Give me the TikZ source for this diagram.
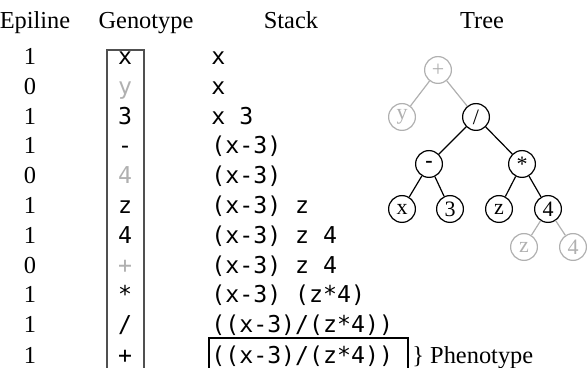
\documentclass[tikz,border=0pt]{standalone}
\usepackage{fontspec}
\setmainfont{Liberation Serif}
\setmonofont{DejaVu Sans Mono}
\usepackage{xcolor}
\definecolor{epink}{HTML}{000000}
\definecolor{epoff}{HTML}{B0B0B0}
\definecolor{epframe}{HTML}{505050}
\usepackage{tikz}
\tikzset{
  ephead/.style ={font=\fontsize{12.2}{14}\selectfont, inner sep=0pt, anchor=base, text=epink},
  epbit/.style  ={ephead},
  epgene/.style ={font=\ttfamily\fontsize{11.6}{14}\selectfont, inner sep=0pt, anchor=base, text=epink},
  epsilent/.style={epgene, text=epoff},
  epstack/.style={epgene, anchor=base west},
  epleaf/.style ={circle, draw=epink, line width=0.6pt, minimum size=13.4pt, inner sep=0pt,
                  font=\fontsize{11}{12}\selectfont, text=epink},
  epghost/.style={epleaf, draw=epoff, text=epoff},
  epedge/.style ={line width=0.6pt, draw=epink},
  epedgeoff/.style={line width=0.6pt, draw=epoff},
}

\begin{document}
\begin{tikzpicture}[x=0.5pt, y=-0.5pt]
  \useasboundingbox (0,0) rectangle (588,368);
  % column headings
  \node[ephead] (hepi)   at (35,28.5)  {Epiline};
  \node[ephead] (hgeno)  at (146,28.5) {Genotype};
  \node[ephead] (hstack) at (291,28.5) {Stack};
  \node[ephead] (htree)  at (482,28.5) {Tree};

  % epiline bits
  \node[epbit] (b1)  at (30,65)  {1};
  \node[epbit] (b2)  at (30,95)  {0};
  \node[epbit] (b3)  at (30,125) {1};
  \node[epbit] (b4)  at (30,154) {1};
  \node[epbit] (b5)  at (30,184) {0};
  \node[epbit] (b6)  at (30,214) {1};
  \node[epbit] (b7)  at (30,244) {1};
  \node[epbit] (b8)  at (30,274) {0};
  \node[epbit] (b9)  at (30,303) {1};
  \node[epbit] (b10) at (30,333) {1};
  \node[epbit] (b11) at (30,363) {1};

  % genes, the silent ones in grey
  \draw[epframe, line width=0.6pt] (107,50) rectangle (144,372);
  \node[epgene]   (g1)  at (125,65)  {x};
  \node[epsilent] (g2)  at (125,95)  {y};
  \node[epgene]   (g3)  at (125,125) {3};
  \node[epgene]   (g4)  at (125,154) {-};
  \node[epsilent] (g5)  at (125,184) {4};
  \node[epgene]   (g6)  at (125,214) {z};
  \node[epgene]   (g7)  at (125,244) {4};
  \node[epsilent] (g8)  at (125,274) {+};
  \node[epgene]   (g9)  at (125,303) {*};
  \node[epgene]   (g10) at (125,333) {/};
  \node[epgene]   (g11) at (125,363) {+};

  % stack after each gene
  \node[epstack] (s1)  at (211,65)  {x};
  \node[epstack] (s2)  at (211,95)  {x};
  \node[epstack] (s3)  at (211,125) {x 3};
  \node[epstack] (s4)  at (211,154) {(x-3)};
  \node[epstack] (s5)  at (211,184) {(x-3)};
  \node[epstack] (s6)  at (211,214) {(x-3) z};
  \node[epstack] (s7)  at (211,244) {(x-3) z 4};
  \node[epstack] (s8)  at (211,274) {(x-3) z 4};
  \node[epstack] (s9)  at (211,303) {(x-3) (z*4)};
  \node[epstack] (s10) at (211,333) {((x-3)/(z*4))};
  \node[epstack] (s11) at (211,363) {((x-3)/(z*4))};
  \draw[epink, line width=0.6pt] (209,338) rectangle (408,372);
  \node[ephead, anchor=base west] (pheno) at (412,363) {\} Phenotype};

  % expression tree
  \node[epghost] (tplus) at (438,70)  {+};
  \node[epghost] (ty)    at (402,117) {y};
  \node[epleaf]  (tdiv)  at (476,117) {/};
  \node[epleaf]  (tsub)  at (429,164) {\textbf{-}};
  \node[epleaf]  (tmul)  at (522,164) {*};
  \node[epleaf]  (tx)    at (402,209) {x};
  \node[epleaf]  (tthree) at (450,209) {3};
  \node[epleaf]  (tz)    at (499,209) {z};
  \node[epleaf]  (tfour) at (548,209) {4};
  \node[epghost] (tgz)   at (524,247) {z};
  \node[epghost] (tg4)   at (573,247) {4};
  \draw[epedgeoff] (tplus) -- (ty);
  \draw[epedgeoff] (tplus) -- (tdiv);
  \draw[epedge] (tdiv) -- (tsub);
  \draw[epedge] (tdiv) -- (tmul);
  \draw[epedge] (tsub) -- (tx);
  \draw[epedge] (tsub) -- (tthree);
  \draw[epedge] (tmul) -- (tz);
  \draw[epedge] (tmul) -- (tfour);
  \draw[epedgeoff] (tfour) -- (tgz);
  \draw[epedgeoff] (tfour) -- (tg4);
\end{tikzpicture}
\end{document}
